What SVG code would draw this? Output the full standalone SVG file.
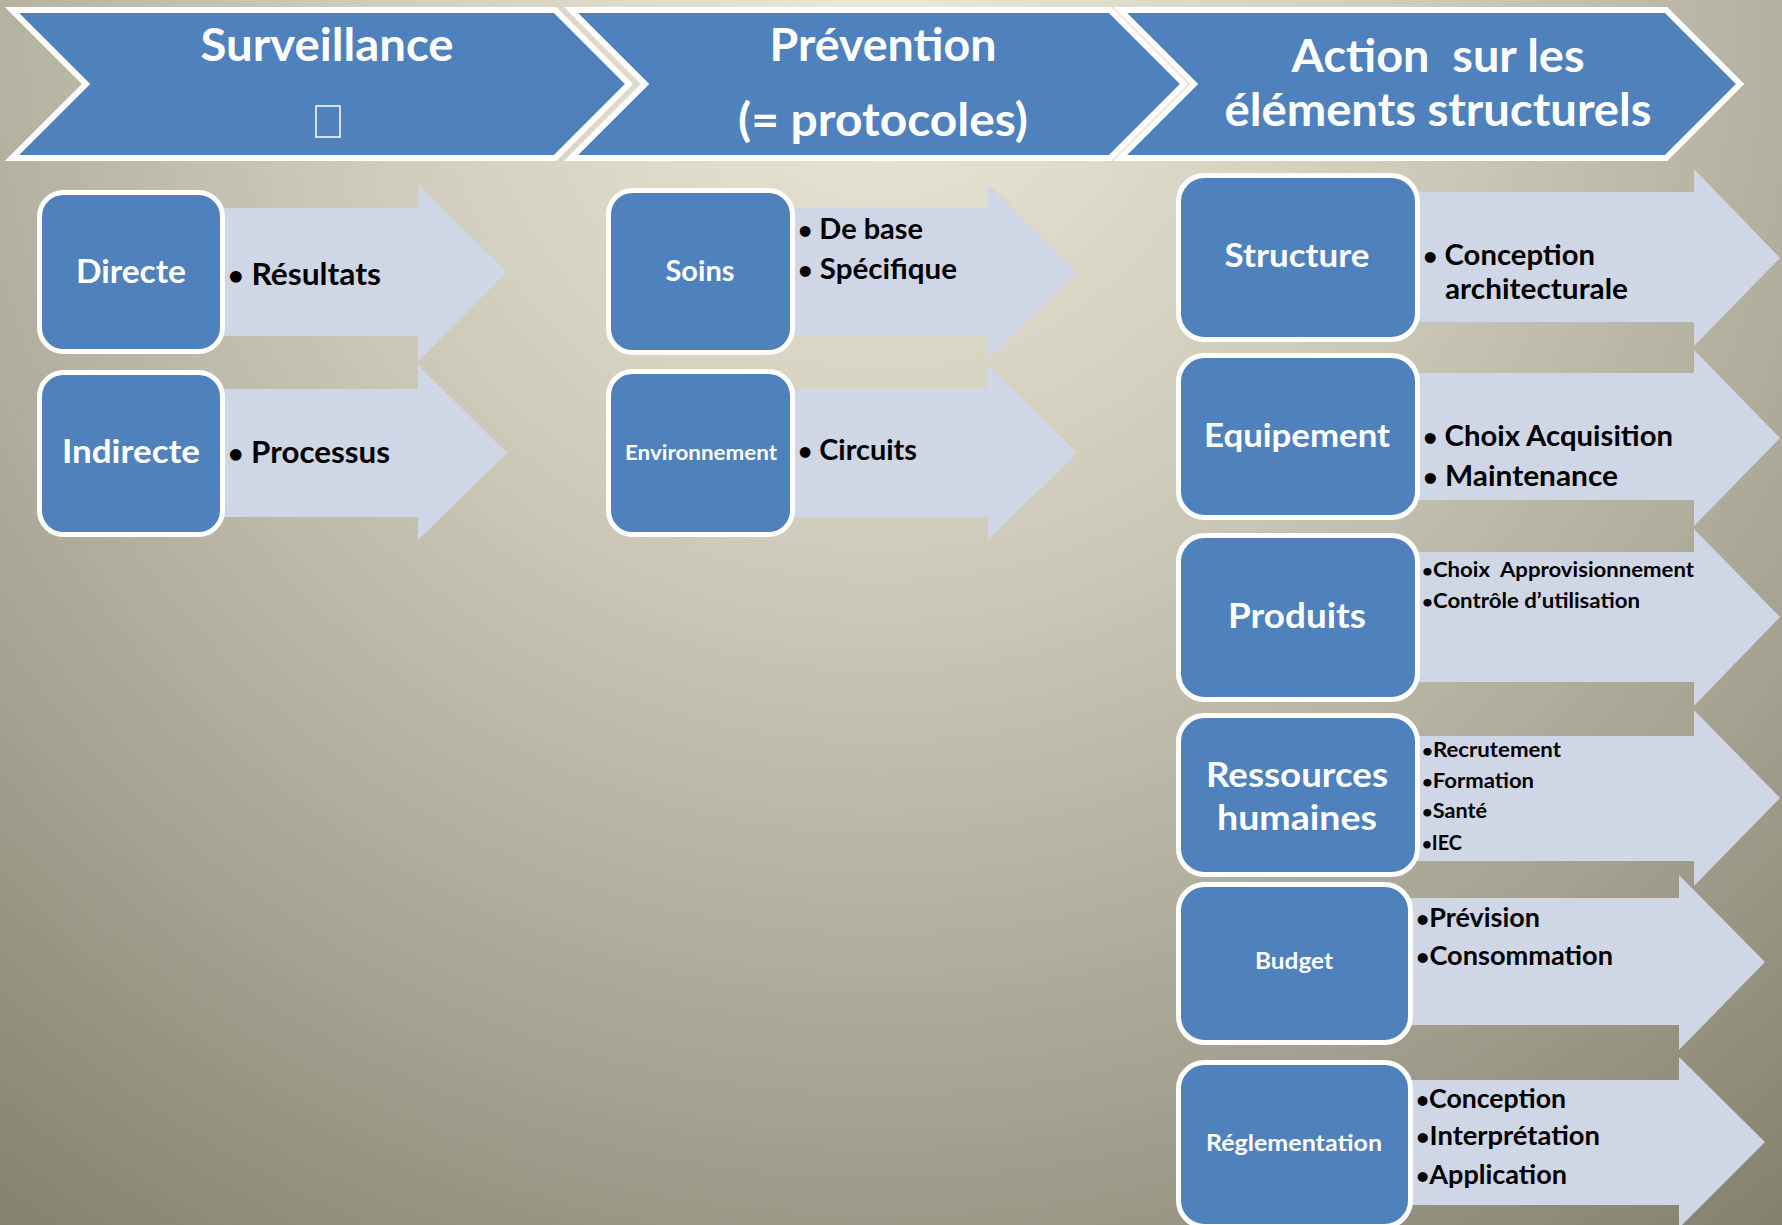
<svg xmlns="http://www.w3.org/2000/svg" width="1782" height="1225" viewBox="0 0 1782 1225">
<defs>
<radialGradient id="bg" gradientUnits="userSpaceOnUse" cx="880" cy="20" r="1500">
<stop offset="0" stop-color="#ebe8d8"/>
<stop offset="0.35" stop-color="#d0ccbb"/>
<stop offset="0.7" stop-color="#a9a594"/>
<stop offset="1" stop-color="#85816f"/>
</radialGradient>
<style>
.chev{fill:#4f81bd;stroke:#ffffff;stroke-width:6;stroke-linejoin:miter}
.box{fill:#4f81bd;stroke:#ffffff;stroke-width:5}
.arr{fill:#cfd6e5}
.t{font-family:Lato,'Open Sans','Liberation Sans',sans-serif;font-weight:bold}
.hd{fill:#ffffff;font-size:45px;text-anchor:middle}
.lb{fill:#ffffff;text-anchor:middle}
.it{fill:#000000}
.bu{font-size:0.85em}
</style>
</defs>
<rect x="0" y="0" width="1782" height="1225" fill="url(#bg)"/>

<g id="header-surveillance">
<polygon class="chev" points="12,10 555,10 629,84 555,158 12,158 86,84"/>
<text class="t hd" x="327" y="61" textLength="253" lengthAdjust="spacingAndGlyphs">Surveillance</text>
<rect x="316" y="106" width="24" height="31" fill="none" stroke="#ffffff" stroke-width="1.5"/>
</g>
<g id="header-prevention">
<polygon class="chev" points="571,10 1110,10 1184,84 1110,158 571,158 645,84"/>
<text class="t hd" x="883" y="61" textLength="227" lengthAdjust="spacingAndGlyphs">Prévention</text>
<text class="t hd" x="883" y="136" textLength="290" lengthAdjust="spacingAndGlyphs">(= protocoles)</text>
</g>
<g id="header-action">
<polygon class="chev" points="1120,10 1666,10 1740,84 1666,158 1120,158 1194,84"/>
<text class="t hd" x="1438" y="72" style="white-space:pre" textLength="293" lengthAdjust="spacingAndGlyphs">Action  sur les</text>
<text class="t hd" x="1438" y="126" textLength="427" lengthAdjust="spacingAndGlyphs">éléments structurels</text>
</g>

<g id="connectors">
<polygon class="arr" points="130,208 418,208 418,184 507,272 418,361 418,336 130,336"/>
<polygon class="arr" points="130,389 418,389 418,365 507,453 418,540 418,517 130,517"/>
<polygon class="arr" points="700,208 988,208 988,184 1077,272 988,360 988,336 700,336"/>
<polygon class="arr" points="700,389 988,389 988,365 1077,453 988,540 988,517 700,517"/>
<polygon class="arr" points="1300,192 1694,192 1694,169 1780,258 1694,346 1694,322 1300,322"/>
<polygon class="arr" points="1300,373 1694,373 1694,350 1780,438 1694,526 1694,500 1300,500"/>
<polygon class="arr" points="1300,552 1694,552 1694,529 1780,617 1694,706 1694,682 1300,682"/>
<polygon class="arr" points="1300,736 1694,736 1694,710 1780,798 1694,886 1694,861 1300,861"/>
<polygon class="arr" points="1300,898 1679,898 1679,875 1765,962 1679,1050 1679,1025 1300,1025"/>
<polygon class="arr" points="1300,1080 1679,1080 1679,1057 1765,1142 1679,1228 1679,1205 1300,1205"/>
</g>

<g id="node-directe">
<rect class="box" x="39.5" y="192.5" width="183" height="159" rx="24"/>
<text class="t lb" x="131" y="283" font-size="33" textLength="110" lengthAdjust="spacingAndGlyphs">Directe</text>
<text class="t it" x="228" y="285" font-size="31" textLength="153" lengthAdjust="spacingAndGlyphs"><tspan class="bu">•</tspan> Résultats</text>
</g>
<g id="node-indirecte">
<rect class="box" x="39.5" y="372.5" width="183" height="162" rx="24"/>
<text class="t lb" x="131" y="463" font-size="33" textLength="138" lengthAdjust="spacingAndGlyphs">Indirecte</text>
<text class="t it" x="228" y="463" font-size="31" textLength="162" lengthAdjust="spacingAndGlyphs"><tspan class="bu">•</tspan> Processus</text>
</g>
<g id="node-soins">
<rect class="box" x="608.5" y="190.5" width="184" height="162" rx="24"/>
<text class="t lb" x="700" y="281" font-size="28" textLength="69" lengthAdjust="spacingAndGlyphs">Soins</text>
<text class="t it" x="798" y="239" font-size="28" textLength="125" lengthAdjust="spacingAndGlyphs"><tspan class="bu">•</tspan> De base</text>
<text class="t it" x="798" y="279" font-size="28" textLength="159" lengthAdjust="spacingAndGlyphs"><tspan class="bu">•</tspan> Spécifique</text>
</g>
<g id="node-environnement">
<rect class="box" x="608.5" y="371.5" width="184" height="163" rx="24"/>
<text class="t lb" x="701" y="460" font-size="21" textLength="152" lengthAdjust="spacingAndGlyphs">Environnement</text>
<text class="t it" x="798" y="460" font-size="28" textLength="119" lengthAdjust="spacingAndGlyphs"><tspan class="bu">•</tspan> Circuits</text>
</g>
<g id="node-structure">
<rect class="box" x="1178.5" y="175.5" width="239" height="164" rx="26"/>
<text class="t lb" x="1297" y="267" font-size="33" textLength="145" lengthAdjust="spacingAndGlyphs">Structure</text>
<text class="t it" x="1423" y="265" font-size="28" textLength="172" lengthAdjust="spacingAndGlyphs"><tspan class="bu">•</tspan> Conception</text>
<text class="t it" x="1445" y="299" font-size="28" textLength="183" lengthAdjust="spacingAndGlyphs">architecturale</text>
</g>
<g id="node-equipement">
<rect class="box" x="1178.5" y="355.5" width="239" height="162" rx="26"/>
<text class="t lb" x="1297" y="447" font-size="33" textLength="186" lengthAdjust="spacingAndGlyphs">Equipement</text>
<text class="t it" x="1423" y="446" font-size="28" textLength="250" lengthAdjust="spacingAndGlyphs"><tspan class="bu">•</tspan> Choix Acquisition</text>
<text class="t it" x="1423" y="486" font-size="28" textLength="195" lengthAdjust="spacingAndGlyphs"><tspan class="bu">•</tspan> Maintenance</text>
</g>
<g id="node-produits">
<rect class="box" x="1178.5" y="535.5" width="239" height="164" rx="26"/>
<text class="t lb" x="1297" y="628" font-size="34" textLength="138" lengthAdjust="spacingAndGlyphs">Produits</text>
<text class="t it" x="1422" y="577" font-size="20.5" style="white-space:pre" textLength="272" lengthAdjust="spacingAndGlyphs"><tspan class="bu">•</tspan>Choix  Approvisionnement</text>
<text class="t it" x="1422" y="608" font-size="20.5" textLength="218" lengthAdjust="spacingAndGlyphs"><tspan class="bu">•</tspan>Contrôle d’utilisation</text>
</g>
<g id="node-ressources">
<rect class="box" x="1178.5" y="715.5" width="239" height="159" rx="26"/>
<text class="t lb" x="1297" y="787" font-size="35" textLength="182" lengthAdjust="spacingAndGlyphs">Ressources</text>
<text class="t lb" x="1297" y="830" font-size="35" textLength="160" lengthAdjust="spacingAndGlyphs">humaines</text>
<text class="t it" x="1422" y="757" font-size="20.5" textLength="139" lengthAdjust="spacingAndGlyphs"><tspan class="bu">•</tspan>Recrutement</text>
<text class="t it" x="1422" y="788" font-size="20.5" textLength="112" lengthAdjust="spacingAndGlyphs"><tspan class="bu">•</tspan>Formation</text>
<text class="t it" x="1422" y="818" font-size="20.5" textLength="65" lengthAdjust="spacingAndGlyphs"><tspan class="bu">•</tspan>Santé</text>
<text class="t it" x="1422" y="850" font-size="20.5" textLength="40" lengthAdjust="spacingAndGlyphs"><tspan class="bu">•</tspan>IEC</text>
</g>
<g id="node-budget">
<rect class="box" x="1178.5" y="884.5" width="232" height="158" rx="26"/>
<text class="t lb" x="1294" y="969" font-size="23" textLength="78" lengthAdjust="spacingAndGlyphs">Budget</text>
<text class="t it" x="1416" y="927" font-size="26" textLength="124" lengthAdjust="spacingAndGlyphs"><tspan class="bu">•</tspan>Prévision</text>
<text class="t it" x="1416" y="965" font-size="26" textLength="197" lengthAdjust="spacingAndGlyphs"><tspan class="bu">•</tspan>Consommation</text>
</g>
<g id="node-reglementation">
<rect class="box" x="1178.5" y="1062.5" width="232" height="164" rx="26"/>
<text class="t lb" x="1294" y="1151" font-size="23" textLength="176" lengthAdjust="spacingAndGlyphs">Réglementation</text>
<text class="t it" x="1416" y="1108" font-size="26" textLength="150" lengthAdjust="spacingAndGlyphs"><tspan class="bu">•</tspan>Conception</text>
<text class="t it" x="1416" y="1145" font-size="26" textLength="184" lengthAdjust="spacingAndGlyphs"><tspan class="bu">•</tspan>Interprétation</text>
<text class="t it" x="1416" y="1184" font-size="26" textLength="151" lengthAdjust="spacingAndGlyphs"><tspan class="bu">•</tspan>Application</text>
</g>
</svg>
